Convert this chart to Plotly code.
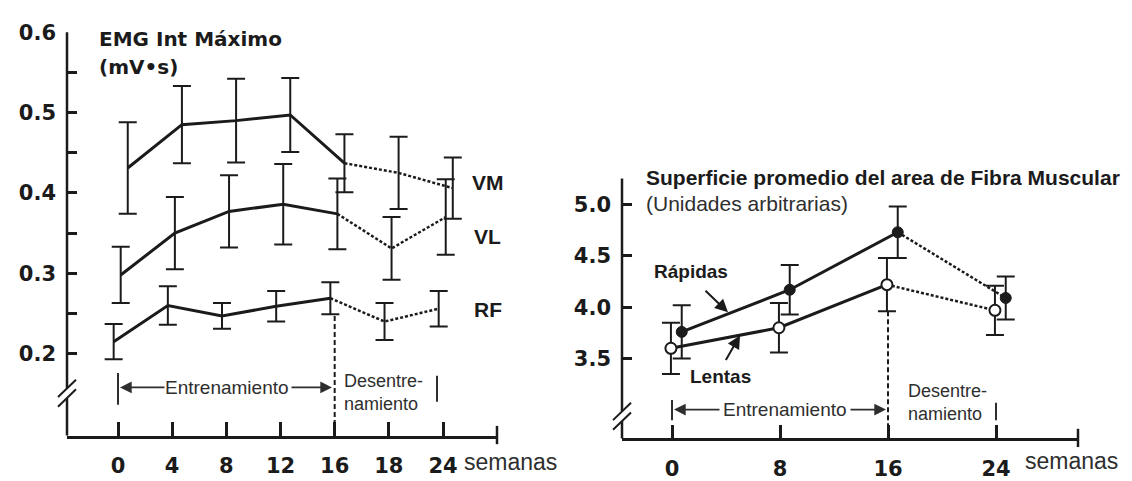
import plotly.graph_objects as go

# ---------------------------------------------------------------- data
weeks_emg = ["0", "4", "8", "12", "16", "18", "24"]
vm_mean = [0.431, 0.485, 0.490, 0.497, 0.437, 0.425, 0.406]
vm_sd = [0.057, 0.048, 0.052, 0.046, 0.036, 0.045, 0.038]
vl_mean = [0.298, 0.350, 0.377, 0.386, 0.374, 0.331, 0.370]
vl_sd = [0.035, 0.045, 0.045, 0.050, 0.044, 0.039, 0.047]
rf_mean = [0.215, 0.260, 0.247, 0.259, 0.269, 0.240, 0.256]
rf_sd = [0.022, 0.024, 0.016, 0.019, 0.020, 0.023, 0.022]
emg_ticks = [0.2, 0.25, 0.3, 0.35, 0.4, 0.45, 0.5, 0.55, 0.6]
emg_ticktext = ["0.2", "", "0.3", "", "0.4", "", "0.5", "", "0.6"]

weeks_fib = ["0", "8", "16", "24"]
rapidas_mean = [3.76, 4.17, 4.73, 4.09]
rapidas_sd = [0.26, 0.24, 0.25, 0.21]
lentas_mean = [3.60, 3.80, 4.22, 3.97]
lentas_sd = [0.25, 0.24, 0.26, 0.24]
fib_ticks = [3.5, 4.0, 4.5, 5.0, 5.25]
fib_ticktext = ["3.5", "4.0", "4.5", "5.0", ""]

# ---------------------------------------------------------------- style
W, H = 1132, 481
INK = "#1b1b1b"
SOFT = "#2e2e2e"
BOLD_NUM = dict(family="DejaVu Sans", size=21, color=INK, weight="bold")
SANS = "Liberation Sans"


def px(x):
    return x / W


def py(y):
    return 1 - y / H


fig = go.Figure()


def add_series(means, sds, offset, split, xa, ya, marker=None):
    xs = [i + offset for i in range(len(means))]
    common = dict(xaxis=xa, yaxis=ya, showlegend=False, hoverinfo="skip")
    # training period: solid
    fig.add_trace(go.Scatter(x=xs[:split + 1], y=means[:split + 1], mode="lines",
                             line=dict(color=INK, width=3), **common))
    # detraining period: dotted
    fig.add_trace(go.Scatter(x=xs[split:], y=means[split:], mode="lines",
                             line=dict(color=INK, width=2.5, dash="3px,2px"), **common))
    # error bars (and symbols when given)
    fig.add_trace(go.Scatter(
        x=xs, y=means, mode="markers",
        marker=marker or dict(size=1, color="rgba(0,0,0,0)"),
        error_y=dict(type="data", array=sds, color=INK, thickness=2, width=9),
        **common))


# left panel: integrated EMG
add_series(vm_mean, vm_sd, 0.18, 4, "x", "y")
add_series(vl_mean, vl_sd, 0.05, 4, "x", "y")
add_series(rf_mean, rf_sd, -0.08, 4, "x", "y")

# right panel: fibre area
add_series(lentas_mean, lentas_sd, -0.01, 2, "x2", "y2",
           marker=dict(size=11, color="white", line=dict(color=INK, width=2)))
add_series(rapidas_mean, rapidas_sd, 0.09, 2, "x2", "y2",
           marker=dict(size=11, color=INK, line=dict(color=INK, width=1)))

axis_common = dict(showgrid=False, zeroline=False, ticks="inside", tickcolor=INK,
                   tickwidth=2.5, tickfont=BOLD_NUM, fixedrange=True)

fig.update_layout(
    width=W, height=H,
    margin=dict(l=0, r=0, t=0, b=0),
    paper_bgcolor="white", plot_bgcolor="white",
    xaxis=dict(domain=[px(67), px(497)], range=[-0.9415, 6.9965], anchor="y",
               tickvals=list(range(len(weeks_emg))), ticktext=weeks_emg,
               ticklen=14, showline=True, linecolor=INK, linewidth=2.5,
               ticklabelstandoff=10, **axis_common),
    yaxis=dict(domain=[py(440), py(21)], range=[0.0982, 0.6], anchor="x",
               tickvals=emg_ticks, ticktext=emg_ticktext, ticklen=10,
               showline=False, ticklabelstandoff=10, **axis_common),
    xaxis2=dict(domain=[px(622), px(1078)], range=[-0.463, 3.759], anchor="y2",
                tickvals=list(range(len(weeks_fib))), ticktext=weeks_fib,
                ticklen=14, showline=True, linecolor=INK, linewidth=2.5,
                ticklabelstandoff=10, **axis_common),
    yaxis2=dict(domain=[py(443), py(173)], range=[2.7226, 5.253], anchor="x2",
                tickvals=fib_ticks, ticktext=fib_ticktext, ticklen=10,
                showline=False, ticklabelstandoff=10, **axis_common),
)


def seg(x0, y0, x1, y1, width=2.5, dash=None, color=INK):
    line = dict(color=color, width=width)
    if dash:
        line["dash"] = dash
    fig.add_shape(type="line", xref="paper", yref="paper",
                  x0=px(x0), y0=py(y0), x1=px(x1), y1=py(y1), line=line)


# broken y axes
seg(67, 21, 67, 391)
seg(67, 401, 67, 440)
seg(58, 400, 76, 382, width=2)
seg(58, 410, 76, 392, width=2)
seg(622, 173, 622, 415)
seg(622, 425, 622, 443)
seg(613, 424, 631, 406, width=2)
seg(613, 434, 631, 416, width=2)
# x axis end caps
seg(497, 430, 497, 449)
seg(1078, 433, 1078, 452)

# end of training (week 16)
fig.add_shape(type="line", xref="x", yref="y", x0=4, x1=4, y0=0.247, y1=0.0982,
              line=dict(color=INK, width=2, dash="5px,3px"))
fig.add_shape(type="line", xref="x2", yref="y2", x0=2, x1=2, y0=3.96, y1=2.7226,
              line=dict(color=INK, width=2, dash="5px,3px"))

# period brackets
seg(118, 375, 118, 408, width=2, color=SOFT)
seg(437, 378, 437, 405, width=2, color=SOFT)
seg(672, 403, 672, 424, width=2, color=SOFT)
seg(996, 406, 996, 424, width=2, color=SOFT)


def text(x, y, s, size, bold=False, family=SANS, xanchor="left", color=INK, align="left"):
    fig.add_annotation(xref="paper", yref="paper", x=px(x), y=py(y), text=s,
                       showarrow=False, xanchor=xanchor, yanchor="middle", align=align,
                       font=dict(family=family, size=size, color=color,
                                 weight="bold" if bold else "normal"))


def arrow(x_head, y_head, x_tail, y_tail, color=SOFT, width=1.8):
    fig.add_annotation(xref="paper", yref="paper", x=px(x_head), y=py(y_head),
                       ax=x_tail - x_head, ay=y_tail - y_head, text="",
                       showarrow=True, arrowhead=2, arrowsize=1.3,
                       arrowwidth=width, arrowcolor=color)


# left panel texts
text(97, 28, "EMG Int Máximo", 20, bold=True, family="DejaVu Sans")
text(97, 57, "(mV•s)", 20, bold=True, family="DejaVu Sans")
text(470, 177, "VM", 21, bold=True)
text(472, 233, "VL", 21, bold=True)
text(472, 309, "RF", 21, bold=True)
text(227, 390, "Entrenamiento", 19, xanchor="center", color=SOFT)
arrow(120, 390, 166, 390)
arrow(332, 390, 290, 390)
text(342, 395, "Desentre-<br>namiento", 18, color=SOFT)
text(462, 467, "semanas", 23, color=SOFT)

# right panel texts
text(644, 172, "Superficie promedio del area de Fibra Muscular", 21, bold=True)
text(644, 199, "(Unidades arbitrarias)", 21, color=SOFT)
text(652, 270, "Rápidas", 19, bold=True)
arrow(728, 312, 704, 289, color=INK, width=2)
text(688, 379, "Lentas", 19, bold=True)
arrow(740, 336, 725, 362, color=INK, width=2)
text(785, 413, "Entrenamiento", 19, xanchor="center", color=SOFT)
arrow(674, 413, 721, 413)
arrow(886, 413, 849, 413)
text(906, 406, "Desentre-<br>namiento", 18, color=SOFT)
text(1023, 466, "semanas", 23, color=SOFT)

fig.write_html("out.html")
